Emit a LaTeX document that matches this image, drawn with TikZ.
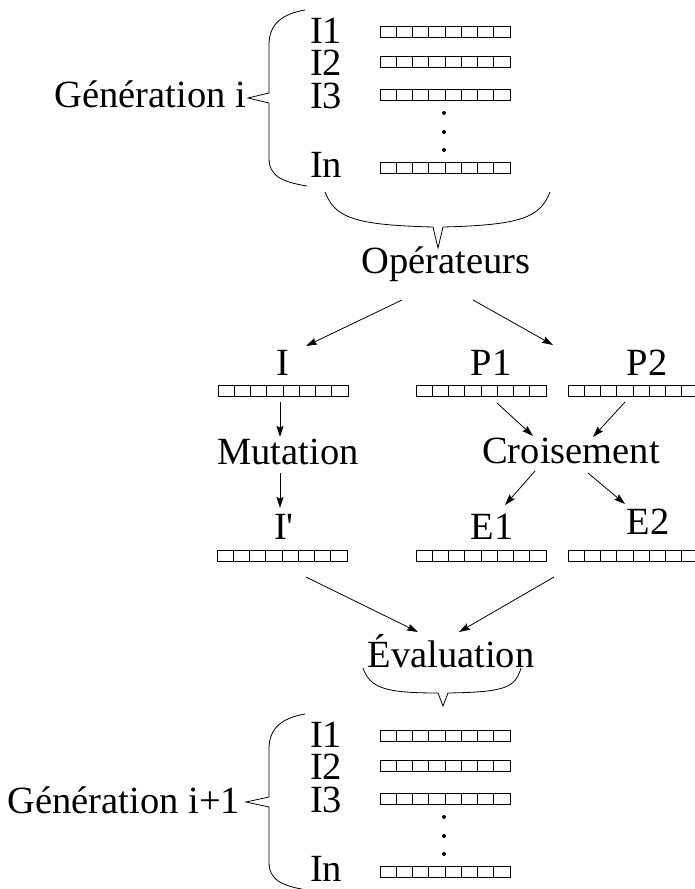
\documentclass[tikz,border=0pt]{standalone}
\usepackage{fontspec}
\setmainfont{Liberation Serif}[Ligatures=TeXOff]
\usetikzlibrary{arrows.meta}
\begin{document}
\begin{tikzpicture}[x=1pt,y=-1pt,
  lbl/.style={inner sep=0pt, outer sep=0pt, anchor=base, font=\fontsize{38.5}{40}\selectfont},
  chrom/.style={draw, line width=0.8pt, minimum width=130pt, minimum height=11.5pt, inner sep=0pt, outer sep=0pt,
    path picture={\foreach \k in {1,...,7}{\draw[line width=0.8pt] ([xshift=\k*16.25pt]path picture bounding box.south west) -- ([xshift=\k*16.25pt]path picture bounding box.north west);}}},
  arr/.style={-{Stealth[length=11pt,width=7pt,inset=1.5pt]}, line width=0.8pt},
  bracestyle/.style={line width=0.8pt},
  dotstyle/.style={fill=black}]
\clip (0,0) rectangle (695,889);

% ---------- Generation i ----------
\node[lbl, anchor=base east] (geni) at (246,107) {Génération i};
\draw[bracestyle] (305,10) .. controls (282,14) and (269,24) .. (269,45) -- (269,93) -- (248,98) -- (269,103) -- (269,158) .. controls (269,176) and (282,182) .. (307,186);
\node[lbl, anchor=base west] (a1) at (310,43) {I1};
\node[lbl, anchor=base west] (a2) at (310,75) {I2};
\node[lbl, anchor=base west] (a3) at (310,108) {I3};
\node[lbl, anchor=base west] (an) at (310,177) {In};
\node[chrom] (ca1) at (445,32) {};
\node[chrom] (ca2) at (445,62) {};
\node[chrom] (ca3) at (445,95) {};
\node[chrom] (can) at (445,168) {};
\fill[dotstyle] (444,113) circle[radius=2pt];
\fill[dotstyle] (444,132) circle[radius=2pt];
\fill[dotstyle] (444,150) circle[radius=2pt];

% brace to Operateurs
\draw[bracestyle] (325,192) .. controls (335,218) and (355,225) .. (433,227) -- (438,248) -- (443,227) .. controls (520,225) and (540,218) .. (550,192);
\node[lbl] (op) at (446,273) {Opérateurs};

% ---------- operators ----------
\node[lbl] (ilab) at (283,375) {I};
\node[lbl] (p1) at (491,375) {P1};
\node[lbl] (p2) at (647,375) {P2};
\node[chrom] (ci) at (283,391) {};
\node[chrom] (cp1) at (481,391) {};
\node[chrom] (cp2) at (633,391) {};

\node[lbl] (mut) at (288,464) {Mutation};
\node[lbl] (cro) at (571,463) {Croisement};

\node[lbl] (iplab) at (284,539) {I'};
\node[lbl] (e1) at (492,539) {E1};
\node[lbl] (e2) at (648,534) {E2};
\node[chrom] (cip) at (282,556) {};
\node[chrom] (ce1) at (481,556) {};
\node[chrom] (ce2) at (633,556) {};

\node[lbl] (eval) at (451,667) {Évaluation};

% connector end points
\coordinate (opA) at (402,300); \coordinate (iT) at (306,346);
\coordinate (opB) at (473,300); \coordinate (pT) at (553,345);
\coordinate (ciB) at (280,402); \coordinate (mutT) at (280,437);
\coordinate (mutB) at (280,473); \coordinate (ipT) at (280,508);
\coordinate (cp1B) at (497,403); \coordinate (croA) at (533,436);
\coordinate (cp2B) at (625,402); \coordinate (croB) at (593,437);
\coordinate (croC) at (535,471); \coordinate (e1T) at (505,505);
\coordinate (croD) at (588,473); \coordinate (e2T) at (625,504);
\coordinate (cipB) at (306,577); \coordinate (evA) at (418,632);
\coordinate (ceB) at (554,577); \coordinate (evB) at (459,632);

\draw[arr] (opA) -- (iT);
\draw[arr] (opB) -- (pT);
\draw[arr] (ciB) -- (mutT);
\draw[arr] (mutB) -- (ipT);
\draw[arr] (cp1B) -- (croA);
\draw[arr] (cp2B) -- (croB);
\draw[arr] (croC) -- (e1T);
\draw[arr] (croD) -- (e2T);
\draw[arr] (cipB) -- (evA);
\draw[arr] (ceB) -- (evB);

% brace under Evaluation
\draw[bracestyle] (363,668) .. controls (370,688) and (385,693) .. (438,693) -- (443,706) -- (448,693) .. controls (505,692) and (515,688) .. (521,668);

% ---------- Generation i+1 ----------
\node[lbl, anchor=base east] (genj) at (240,813) {Génération i+1};
\draw[bracestyle] (305,714) .. controls (282,718) and (269,728) .. (269,749) -- (269,797) -- (246,802) -- (269,807) -- (269,862) .. controls (269,880) and (282,886) .. (307,890);
\node[lbl, anchor=base west] (b1) at (310,747) {I1};
\node[lbl, anchor=base west] (b2) at (310,779) {I2};
\node[lbl, anchor=base west] (b3) at (310,812) {I3};
\node[lbl, anchor=base west] (bn) at (310,881) {In};
\node[chrom] (cb1) at (445,736) {};
\node[chrom] (cb2) at (445,766) {};
\node[chrom] (cb3) at (445,799) {};
\node[chrom] (cbn) at (445,872) {};
\fill[dotstyle] (444,817) circle[radius=2pt];
\fill[dotstyle] (444,836) circle[radius=2pt];
\fill[dotstyle] (444,854) circle[radius=2pt];
\end{tikzpicture}
\end{document}
